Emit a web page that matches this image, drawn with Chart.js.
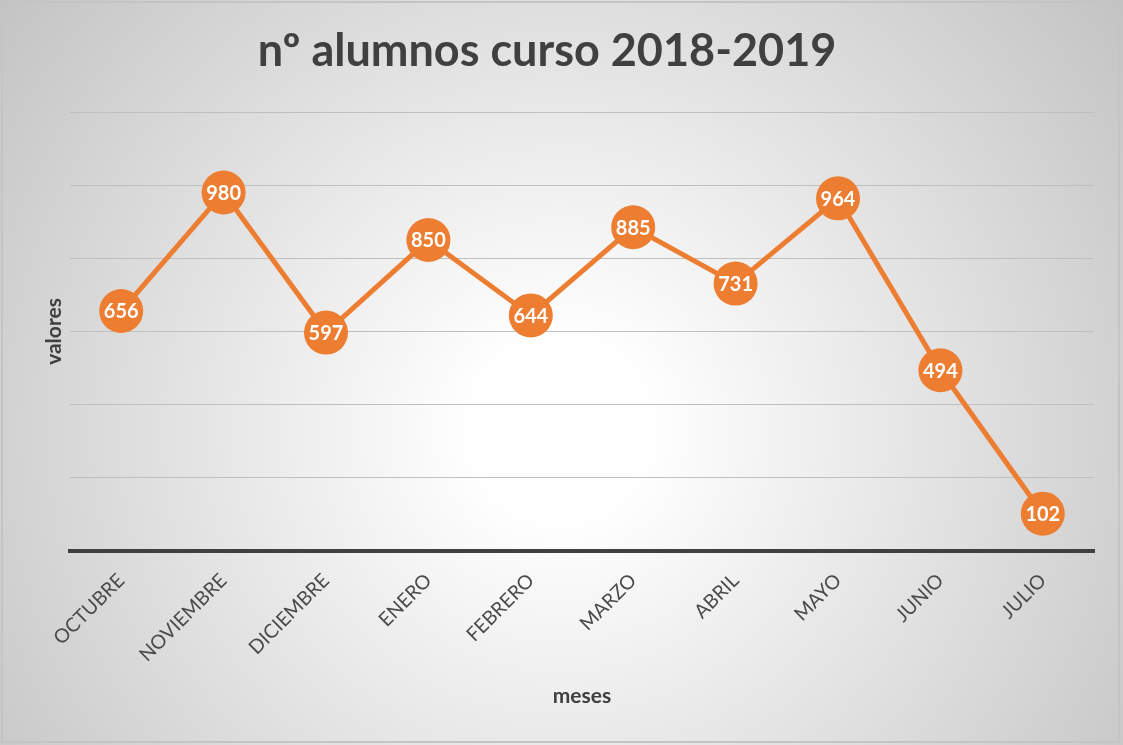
<!DOCTYPE html>
<html>
<head>
<meta charset="utf-8">
<script src="https://cdn.jsdelivr.net/npm/chart.js@4/dist/chart.umd.min.js"></script>
<style>
  html, body { margin: 0; padding: 0; background: #ffffff; }
  #wrap { width: 1123px; height: 745px; }
</style>
</head>
<body>
<div id="wrap"><canvas id="c" width="1123" height="745"></canvas></div>
<script>
const months = ['OCTUBRE','NOVIEMBRE','DICIEMBRE','ENERO','FEBRERO','MARZO','ABRIL','MAYO','JUNIO','JULIO'];
const students = [656, 980, 597, 850, 644, 885, 731, 964, 494, 102];
const yTicks = [0, 200, 400, 600, 800, 1000, 1200];
const chartTitle = 'nº alumnos curso 2018-2019';
const xTitle = 'meses';
const yTitle = 'valores';

const FONT = 'Lato, "Open Sans", "Noto Sans", sans-serif';
const ORANGE = '#ED7D31';

const backgroundPlugin = {
  id: 'bg',
  beforeDraw(chart) {
    const ctx = chart.ctx;
    const w = chart.width, h = chart.height;
    ctx.save();
    const g = ctx.createRadialGradient(560, 430, 0, 560, 430, 720);
    g.addColorStop(0, '#ffffff');
    g.addColorStop(0.12, '#ffffff');
    g.addColorStop(1, '#c2c2c2');
    ctx.fillStyle = g;
    ctx.fillRect(0, 0, w, h);
    ctx.strokeStyle = '#c4c4c4';
    ctx.lineWidth = 2;
    ctx.strokeRect(2, 2, 1117, 740);
    ctx.restore();
  }
};

const labelPlugin = {
  id: 'pointLabels',
  afterDatasetsDraw(chart) {
    const ctx = chart.ctx;
    ctx.save();
    ctx.font = 'bold 20px ' + FONT;
    ctx.fillStyle = '#ffffff';
    ctx.textAlign = 'center';
    ctx.textBaseline = 'middle';
    chart.data.datasets.forEach((ds, i) => {
      const meta = chart.getDatasetMeta(i);
      meta.data.forEach((el, j) => {
        ctx.fillText(String(ds.data[j]), el.x, el.y + 1);
      });
    });
    ctx.restore();
  }
};

new Chart(document.getElementById('c'), {
  type: 'line',
  data: {
    labels: months,
    datasets: [{
      data: students,
      borderColor: ORANGE,
      borderWidth: 5,
      backgroundColor: ORANGE,
      pointBackgroundColor: ORANGE,
      pointBorderColor: ORANGE,
      pointBorderWidth: 0,
      pointRadius: 22,
      pointHoverRadius: 22,
      tension: 0,
      fill: false
    }]
  },
  options: {
    responsive: false,
    animation: false,
    events: [],
    layout: { padding: { left: 0, right: 29, top: 0, bottom: 0 } },
    plugins: {
      legend: { display: false },
      tooltip: { enabled: false },
      title: {
        display: true,
        text: chartTitle,
        color: '#404040',
        font: { family: FONT, size: 45, weight: 'bold', lineHeight: 1.2 },
        padding: { top: 24, bottom: 34 }
      }
    },
    scales: {
      x: {
        offset: true,
        grid: { display: false, drawTicks: false },
        border: { display: true, color: '#404040', width: 4 },
        ticks: {
          color: '#4a4a4a',
          font: { family: FONT, size: 19.5 },
          minRotation: 45,
          maxRotation: 45,
          padding: 18,
          autoSkip: false
        },
        title: {
          display: true,
          text: xTitle,
          color: '#404040',
          font: { family: FONT, size: 21, weight: 'bold', lineHeight: 1.2 },
          padding: { top: 0, bottom: 36 }
        },
        afterFit(scale) { scale.height = 194; }
      },
      y: {
        min: yTicks[0],
        max: yTicks[yTicks.length - 1],
        afterBuildTicks(scale) { scale.ticks = yTicks.map(v => ({ value: v })); },
        grid: {
          drawTicks: false,
          lineWidth: 1,
          color: (c) => (c.tick && c.tick.value === 0) ? 'rgba(0,0,0,0)' : '#bfbfbf'
        },
        border: { display: false },
        ticks: { display: false },
        title: {
          display: true,
          text: yTitle,
          color: '#404040',
          font: { family: FONT, size: 21, weight: 'bold', lineHeight: 1.2 },
          padding: { top: 42, bottom: 0 }
        },
        afterFit(scale) { scale.width = 70; }
      }
    }
  },
  plugins: [backgroundPlugin, labelPlugin]
});
</script>
</body>
</html>
